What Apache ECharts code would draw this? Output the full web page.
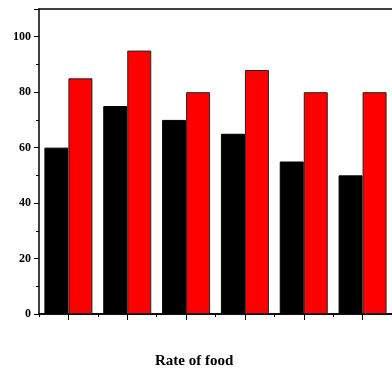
<!DOCTYPE html>
<html><head><meta charset="utf-8">
<script src="https://cdn.jsdelivr.net/npm/echarts@6/dist/echarts.min.js"></script>
<style>html,body{margin:0;padding:0;background:#fff}#c{width:392px;height:368px}</style>
</head><body><div id="c"></div>
<script>
const categories = ['1','2','3','4','5','6'];
const seriesBlack = [60, 75, 70, 65, 55, 50];
const seriesRed = [85, 95, 80, 88, 80, 80];
const yTicks = [0, 20, 40, 60, 80, 100];
const xTitle = 'Rate of food';

const chart = echarts.init(document.getElementById('c'));
const font = '"Liberation Serif", "Times New Roman", serif';
chart.setOption({
  animation: false,
  title: {
    text: xTitle, left: 150, top: 349,
    textStyle: {fontFamily: font, fontWeight: 'bold', fontSize: 15, color: '#000'}
  },
  grid: {left: 39, top: 9, width: 359, bottom: 54},
  xAxis: [
    {type: 'category', data: categories, position: 'bottom',
     axisLine: {show: true, lineStyle: {color: '#000', width: 1.5}},
     axisTick: {show: true, inside: false, alignWithLabel: true, length: 6, lineStyle: {color: '#000', width: 1}},
     axisLabel: {show: false}},
    {type: 'category', data: categories, position: 'bottom',
     axisLine: {show: true, lineStyle: {color: '#000', width: 1.5}},
     axisTick: {show: true, inside: false, interval: 0, length: 3, lineStyle: {color: '#000', width: 1}},
     axisLabel: {show: false}},
    {type: 'category', data: categories, position: 'top',
     axisLine: {show: true, lineStyle: {color: '#000', width: 1.5}},
     axisTick: {show: false}, axisLabel: {show: false}}
  ],
  yAxis: {
    type: 'value', min: 0, max: 110, interval: 20,
    axisLine: {show: true, lineStyle: {color: '#000', width: 1.5}},
    axisTick: {show: true, length: 5, lineStyle: {color: '#000'}},
    minorTick: {show: true, splitNumber: 2, length: 3, lineStyle: {color: '#000'}},
    splitLine: {show: false},
    axisLabel: {
      margin: 8, fontFamily: font, fontWeight: 'bold', fontSize: 12, color: '#000',
      formatter: v => yTicks.includes(v) ? String(v) : ''
    }
  },
  series: [
    {type: 'bar', data: seriesBlack, barWidth: 24, barGap: '0%', xAxisIndex: 0,
     itemStyle: {color: '#000', borderColor: '#000', borderWidth: 1}},
    {type: 'bar', data: seriesRed, barWidth: 24, barGap: '0%', xAxisIndex: 0,
     itemStyle: {color: '#ff0000', borderColor: '#222', borderWidth: 1}}
  ]
});
</script></body></html>
